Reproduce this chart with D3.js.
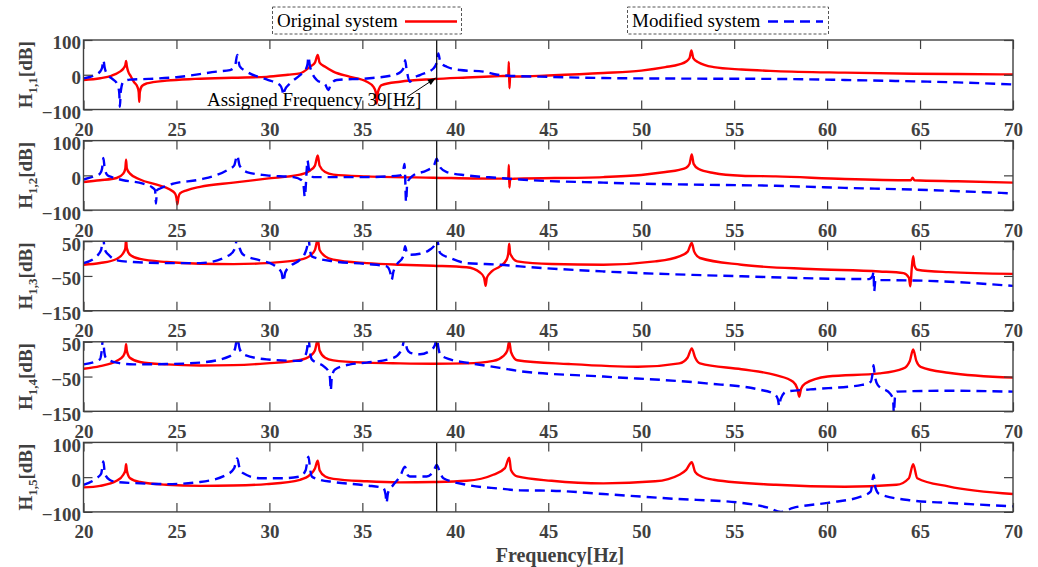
<!DOCTYPE html>
<html>
<head>
<meta charset="utf-8">
<script src="https://cdn.jsdelivr.net/npm/d3@7"></script>
<style>
  body { margin: 0; background: #fff; }
  svg text { font-family: "Liberation Serif", "Times New Roman", serif; }
</style>
</head>
<body>
<svg id="chart" width="1038" height="567"></svg>
<script>
// ---- data: [frequency Hz, magnitude dB] ----
var freqTicks = [20, 25, 30, 35, 40, 45, 50, 55, 60, 65, 70];
var panelNames = ["1,1", "1,2", "1,3", "1,4", "1,5"];
var panelTicks = [[-100, 0, 100], [-100, 0, 100], [-150, -50, 50], [-150, -50, 50], [-100, 0, 100]];
var assignedFrequency = 39;

var h11Original = [[20,-15],[20.9,-10],[21.5,-3],[21.96,9],[22.15,18],[22.25,28],[22.29,40],[22.33,25],[22.4,10],[22.55,-5],[22.7,-20],[22.9,-35],[22.97,-50],[23.0,-78],[23.03,-50],[23.15,-32],[23.4,-25],[24.47,-17],[26,-12],[28,-8.5],[29.85,-6],[31,0],[31.65,4],[32.19,23],[32.45,35],[32.6,57],[32.7,35],[33.0,23],[33.44,9],[34.34,-6],[35.24,-20],[35.6,-35],[35.72,-50],[35.77,-83],[35.84,-50],[36.04,-30],[37.03,-20],[38.82,-12.5],[40.61,-8],[42.4,-4],[42.85,-3],[42.88,37],[42.91,-39],[42.95,-5],[43.3,-5],[45,-2],[47.97,5],[50,12],[51.3,22],[52.05,30],[52.42,38],[52.6,48],[52.7,70],[52.8,48],[53.07,36],[53.9,22],[55.4,15],[57.24,10.5],[60.95,6],[64.66,3],[67,2],[70,1]];
var h11Modified = [[20,-10.6],[20.5,-3],[20.89,9],[21.0,20],[21.07,42],[21.14,20],[21.3,0],[21.52,-10.6],[21.8,-25],[21.92,-50],[21.96,-92],[22.0,-50],[22.14,-20],[22.5,-14],[23.5,-12],[25,-7],[27.16,9],[27.88,13.5],[28.15,25],[28.27,57],[28.4,25],[28.78,9],[29.85,-13.5],[30.57,-30],[30.7,-45],[30.75,-59],[30.82,-45],[31.11,-25],[31.65,-1],[31.95,15],[32.05,30],[32.1,52],[32.18,25],[32.3,5],[32.55,-15],[33.0,-28],[33.17,-44],[33.3,-28],[33.62,-15],[35.24,-10.6],[36.67,-1],[37.1,10],[37.25,25],[37.3,42],[37.38,15],[37.56,-20],[37.74,-10],[38.1,-1],[38.82,18],[39.0,35],[39.09,61],[39.2,35],[39.54,23],[40.26,13.5],[41.51,9],[42.4,-1],[43.48,-4],[45,-6],[47.97,-9.5],[52,-11],[57.24,-12],[60.95,-15],[64.66,-19],[67,-22],[70,-28]];

var h12Original = [[20,-19],[20.89,-14],[21.78,-7.6],[22.14,5],[22.25,20],[22.29,45],[22.33,20],[22.5,5],[23.04,-12],[23.94,-27],[24.65,-41],[24.92,-52],[25.0,-65],[25.05,-83],[25.1,-65],[25.19,-52],[25.55,-43],[26.27,-33],[28.06,-21],[29.85,-9.5],[31.65,2],[32.19,14],[32.45,28],[32.6,57],[32.7,28],[33.0,9.5],[33.44,2],[35.24,-3],[38.82,-6.7],[42.4,-9.5],[42.85,-9],[42.88,30],[42.91,-35],[42.95,-10],[43.3,-9.5],[47.97,-5],[50,1],[51.31,9.5],[52.05,16],[52.42,22],[52.6,33],[52.72,60],[52.82,33],[53.07,19],[53.9,6.7],[55.39,-1],[57.24,-3],[60.95,-10.5],[64.5,-14],[64.6,-7],[64.7,-14],[67,-17],[70,-21]];
var h12Modified = [[20,-12],[20.6,-2],[20.89,5],[21.0,20],[21.07,50],[21.14,20],[21.3,0],[21.52,-5],[22.14,-14],[23.2,-24],[23.7,-35],[23.85,-43],[23.9,-81],[23.95,-43],[24.12,-38],[24.83,-24],[26.27,-12],[27.7,14],[28.1,28],[28.27,57],[28.4,28],[28.78,9.5],[29.85,0],[31.29,-5],[31.74,-14],[31.85,-35],[31.9,-62],[31.97,-20],[32.0,10],[32.05,43],[32.12,20],[32.37,-5],[33.44,-5],[35.24,-5],[37.03,0],[37.2,15],[37.27,33],[37.3,0],[37.35,-76],[37.42,-20],[37.74,0],[38.46,14],[38.85,28],[39.0,48],[39.12,28],[39.54,9.5],[40.61,0],[42.4,-7.6],[43.48,-12],[47.97,-21],[52,-26],[57.24,-30],[60.95,-36],[64.66,-41],[70,-52]];

var h13Original = [[20,-17.6],[20.89,-12.8],[21.78,-1.2],[22.14,16],[22.25,30],[22.29,55],[22.33,30],[22.5,11],[23.04,-1],[24.47,-10],[26.27,-15],[28.06,-16],[29.85,-13],[31.65,-3],[32.19,8.5],[32.45,25],[32.6,55],[32.7,25],[33.0,6.5],[33.44,-3],[35.24,-13],[37.03,-17.6],[38.82,-20.5],[40.61,-25],[41.33,-40],[41.55,-55],[41.63,-78.5],[41.7,-55],[41.96,-37],[42.4,-22.5],[42.76,-3],[42.85,15],[42.9,43],[42.95,15],[43.33,-8],[45.18,-15.7],[47.97,-17.6],[50.75,-8],[52.05,6.5],[52.5,20],[52.72,45],[52.85,20],[53.16,1.7],[55.39,-17.6],[59.1,-30],[62.81,-37],[64.11,-42],[64.4,-55],[64.48,-80],[64.55,-30],[64.63,6.5],[64.7,-20],[64.85,-32],[66.52,-39],[70,-44]];
var h13Modified = [[20,-13],[20.7,6.5],[20.95,25],[21.05,60],[21.15,25],[21.35,11],[21.78,-5],[22.68,-10],[24.47,-13],[26.27,-13],[27.88,11],[28.15,30],[28.27,60],[28.4,30],[28.6,11],[29.49,-5],[30.21,-17.6],[30.65,-40],[30.75,-66],[30.85,-40],[31.11,-22.5],[31.65,-3],[31.92,16],[32.03,35],[32.1,60],[32.18,25],[32.28,6.5],[33.44,-8],[35.24,-15.7],[36.31,-22.5],[36.5,-40],[36.58,-61],[36.66,-40],[36.85,-17.6],[37.2,6.5],[37.3,35.5],[37.4,15],[37.56,11],[38.1,14],[38.64,26],[38.9,40],[39.0,60],[39.1,35],[39.18,16],[39.72,1.7],[40.61,-13],[42.4,-17.6],[43.48,-22.5],[47.97,-37],[55.39,-51],[62.25,-59],[62.45,-50],[62.5,-37],[62.53,-95],[62.6,-62],[64.66,-63],[70,-78.5]];

var h14Original = [[20,-27.7],[20.89,-20],[21.78,-5],[22.14,9],[22.25,25],[22.29,43],[22.33,25],[22.5,4],[23.04,-8],[24.47,-15],[26.27,-18],[28.06,-17],[29.85,-12],[31.65,-2.4],[32.19,9],[32.45,25],[32.6,55],[32.7,25],[33.0,4],[33.44,-3.4],[35.24,-10],[37.03,-12],[38.82,-13],[40.61,-12],[42.04,-5],[42.58,9],[42.8,25],[42.9,52],[43.0,20],[43.33,-3],[46.11,-14],[49.82,-22],[52.05,-12],[52.5,5],[52.72,31],[52.9,5],[53.16,-12],[55.39,-29],[57.24,-46],[58.17,-65],[58.4,-85],[58.5,-108],[58.6,-85],[58.82,-70],[60.03,-50],[62.81,-41],[64.11,-26.5],[64.45,-5],[64.63,28],[64.8,-5],[65.03,-22],[66.52,-39],[70,-53]];
var h14Modified = [[20,-15],[20.89,0],[20.97,20],[21.05,60],[21.12,20],[21.2,4],[21.78,-10],[22.68,-15],[24.47,-14],[26.27,-10],[27.88,9],[28.15,30],[28.27,60],[28.4,30],[28.6,14],[29.85,-0.5],[31.65,-5],[31.92,9],[32.03,30],[32.1,60],[32.2,15],[32.28,-0.5],[32.91,-20],[33.17,-34.5],[33.26,-55],[33.3,-90],[33.36,-50],[33.53,-29.6],[34.34,-15],[35.24,-10],[36.67,4],[37.12,28.6],[37.29,60],[37.4,30],[37.56,19],[38.1,14],[38.64,24],[38.9,40],[39.0,60],[39.1,30],[39.18,14],[39.72,-0.5],[40.61,-10],[42.4,-25],[43.48,-34.5],[47.97,-50],[53.5,-69.6],[56.31,-87],[57.15,-100],[57.35,-115],[57.43,-135],[57.5,-115],[57.8,-93.5],[59.1,-87],[61.88,-74],[62.35,-65],[62.45,-40],[62.5,-17],[62.55,-40],[62.72,-74],[63.4,-100],[63.55,-115],[63.59,-155],[63.65,-110],[63.74,-93.5],[66.52,-90.7],[70,-93.5]];

var h15Original = [[20,-29.5],[20.89,-25],[21.78,-10.5],[22.14,7],[22.25,20],[22.29,37],[22.33,20],[22.5,-3],[23.04,-14],[24.47,-22],[26.27,-25],[28.06,-24],[29.85,-20],[31.65,-7.6],[32.19,7],[32.45,25],[32.6,47],[32.7,20],[33.0,2],[33.44,-5],[35.24,-12],[37.03,-15],[38.82,-14],[40.61,-10.5],[42.04,7],[42.67,26],[42.9,56],[43.0,20],[43.33,2],[45.18,-10.5],[47.97,-18],[50.75,-12],[52.05,7],[52.42,21],[52.72,43],[52.9,15],[53.16,4],[53.9,-7.6],[57.24,-22],[60.95,-27.6],[63.74,-22],[64.4,-3],[64.63,37],[64.85,-3],[66.52,-26.7],[70,-48.6]];
var h15Modified = [[20,-22],[20.7,-3],[20.95,10],[21.07,45],[21.15,10],[21.4,-7.6],[21.78,-14],[22.68,-17],[24.47,-20],[26.27,-14],[27.7,7],[28.1,25],[28.27,54],[28.4,25],[28.6,11],[29.49,-3],[30.75,-3],[31.65,2],[31.95,20],[32.1,59],[32.2,20],[32.28,2],[32.73,-7.6],[33.44,-14],[35.24,-24],[36.13,-31],[36.25,-50],[36.3,-74],[36.38,-45],[36.67,-22],[37.03,2],[37.29,30],[37.45,5],[37.56,2],[38.46,2],[38.82,16],[39.0,35],[39.2,10],[39.36,-3],[40.61,-22],[42.4,-33],[43.48,-38],[45.18,-39],[47.97,-48.6],[51.68,-62],[55.39,-74],[56.87,-88.6],[57.5,-100],[58.17,-88.6],[60.03,-74],[61.88,-55],[62.35,-41],[62.5,7],[62.6,-30],[62.81,-48.6],[64.66,-67.6],[66.52,-74],[70,-84]];

var originalSeries = [h11Original, h12Original, h13Original, h14Original, h15Original];
var modifiedSeries = [h11Modified, h12Modified, h13Modified, h14Modified, h15Modified];

// ---- layout ----
var plotLeft = 83.5, plotRight = 1013,
    panelTop = 40, panelStep = 100.6, panelHeight = 69.5,
    axisColor = "#404040";

var svg = d3.select("#chart");

var x = d3.scaleLinear().domain([20, 70]).range([plotLeft, plotRight]);

var defs = svg.append("defs");
defs.append("marker")
    .attr("id", "arrow")
    .attr("viewBox", "0 0 10 10")
    .attr("refX", 10).attr("refY", 5)
    .attr("markerWidth", 10).attr("markerHeight", 8)
    .attr("orient", "auto")
  .append("path")
    .attr("d", "M0,1L10,5L0,9Z")
    .attr("fill", "#000");

panelNames.forEach(function(name, i) {
    var top = panelTop + i * panelStep,
        bottom = top + panelHeight,
        ticks = panelTicks[i];

    var y = d3.scaleLinear().domain([ticks[0], ticks[2]]).range([bottom, top]);

    // monotone keeps the sharp resonance spikes but smooths the slow parts
    var line = d3.line()
        .curve(d3.curveMonotoneX)
        .x(function(d) { return x(d[0]); })
        .y(function(d) { return y(d[1]); });

    defs.append("clipPath").attr("id", "clip" + i)
      .append("rect")
        .attr("x", plotLeft).attr("y", top)
        .attr("width", plotRight - plotLeft).attr("height", panelHeight);

    var g = svg.append("g");

    var plot = g.append("g").attr("clip-path", "url(#clip" + i + ")");

    plot.append("path")
        .datum(originalSeries[i])
        .attr("fill", "none")
        .attr("stroke", "#ff0000")
        .attr("stroke-width", 2.4)
        .attr("stroke-linejoin", "round")
        .attr("d", line);

    plot.append("path")
        .datum(modifiedSeries[i])
        .attr("fill", "none")
        .attr("stroke", "#0000ff")
        .attr("stroke-width", 2.4)
        .attr("stroke-dasharray", "10,6")
        .attr("d", line);

    // assigned frequency marker
    plot.append("line")
        .attr("x1", x(assignedFrequency)).attr("x2", x(assignedFrequency))
        .attr("y1", top).attr("y2", bottom)
        .attr("stroke", "#000").attr("stroke-width", 1.2);

    // axes, ticks pointing inward on all four sides
    g.append("g")
        .attr("transform", "translate(0," + bottom + ")")
        .call(d3.axisBottom(x).tickValues(freqTicks).tickSizeInner(-9).tickSizeOuter(0)
              .tickPadding(13).tickFormat(d3.format("d")));
    g.append("g")
        .attr("transform", "translate(0," + top + ")")
        .call(d3.axisTop(x).tickValues(freqTicks).tickSizeInner(-9).tickSizeOuter(0).tickFormat(""));
    var leftAxis = g.append("g")
        .attr("transform", "translate(" + plotLeft + ",0)")
        .call(d3.axisLeft(y).tickValues(ticks).tickSizeInner(-9).tickSizeOuter(0).tickPadding(2.5));
    g.append("g")
        .attr("transform", "translate(" + plotRight + ",0)")
        .call(d3.axisRight(y).tickValues(ticks).tickSizeInner(-9).tickSizeOuter(0).tickFormat(""));

    leftAxis.selectAll("text").attr("dy", "0.47em");

    g.selectAll(".domain").remove();
    g.selectAll(".tick line").attr("stroke", axisColor).attr("stroke-width", 1.2);
    g.selectAll(".tick text")
        .attr("fill", axisColor)
        .style("font-family", "'Liberation Serif', 'Times New Roman', serif")
        .style("font-size", "19px")
        .style("font-weight", "bold");

    g.append("rect")
        .attr("x", plotLeft).attr("y", top)
        .attr("width", plotRight - plotLeft).attr("height", panelHeight)
        .attr("fill", "none")
        .attr("stroke", axisColor)
        .attr("stroke-width", 1.4);

    // y label  H_{i,j}[dB]
    var label = svg.append("text")
        .attr("transform", "translate(32," + (top + panelHeight / 2) + ") rotate(-90)")
        .attr("text-anchor", "middle")
        .attr("fill", axisColor)
        .style("font-size", "19px")
        .style("font-weight", "bold");
    label.append("tspan").text("H");
    label.append("tspan").attr("dy", 5).style("font-size", "13px").text(name);
    label.append("tspan").attr("dy", -5).text("[dB]");
});

// x axis title
svg.append("text")
    .attr("x", 560).attr("y", 562)
    .attr("text-anchor", "middle")
    .attr("fill", axisColor)
    .style("font-size", "20px")
    .style("font-weight", "bold")
    .text("Frequency[Hz]");

// annotation
svg.append("text")
    .attr("x", 207).attr("y", 106)
    .style("font-size", "19px")
    .attr("fill", "#000")
    .text("Assigned Frequency 39[Hz]");
svg.append("line")
    .attr("x1", 407).attr("y1", 97)
    .attr("x2", x(assignedFrequency) - 1).attr("y2", 78)
    .attr("stroke", "#000").attr("stroke-width", 1)
    .attr("marker-end", "url(#arrow)");

// legends (two separate boxes)
var legendItems = [
    { label: "Original system", color: "#ff0000", dash: null, box: [272.5, 7, 189, 27], textX: 277, lineX: [405, 457] },
    { label: "Modified system", color: "#0000ff", dash: "10,6", box: [627.5, 7, 201, 27], textX: 632, lineX: [768, 823] }
];
legendItems.forEach(function(item) {
    var lg = svg.append("g");
    lg.append("rect")
        .attr("x", item.box[0]).attr("y", item.box[1])
        .attr("width", item.box[2]).attr("height", item.box[3])
        .attr("fill", "#fff")
        .attr("stroke", "#555")
        .attr("stroke-width", 1)
        .attr("stroke-dasharray", "3,2");
    lg.append("text")
        .attr("x", item.textX).attr("y", 27)
        .attr("fill", "#000")
        .style("font-size", "19px")
        .text(item.label);
    lg.append("line")
        .attr("x1", item.lineX[0]).attr("x2", item.lineX[1])
        .attr("y1", 21.5).attr("y2", 21.5)
        .attr("stroke", item.color)
        .attr("stroke-width", 2.4)
        .attr("stroke-dasharray", item.dash);
});
</script>
</body>
</html>
